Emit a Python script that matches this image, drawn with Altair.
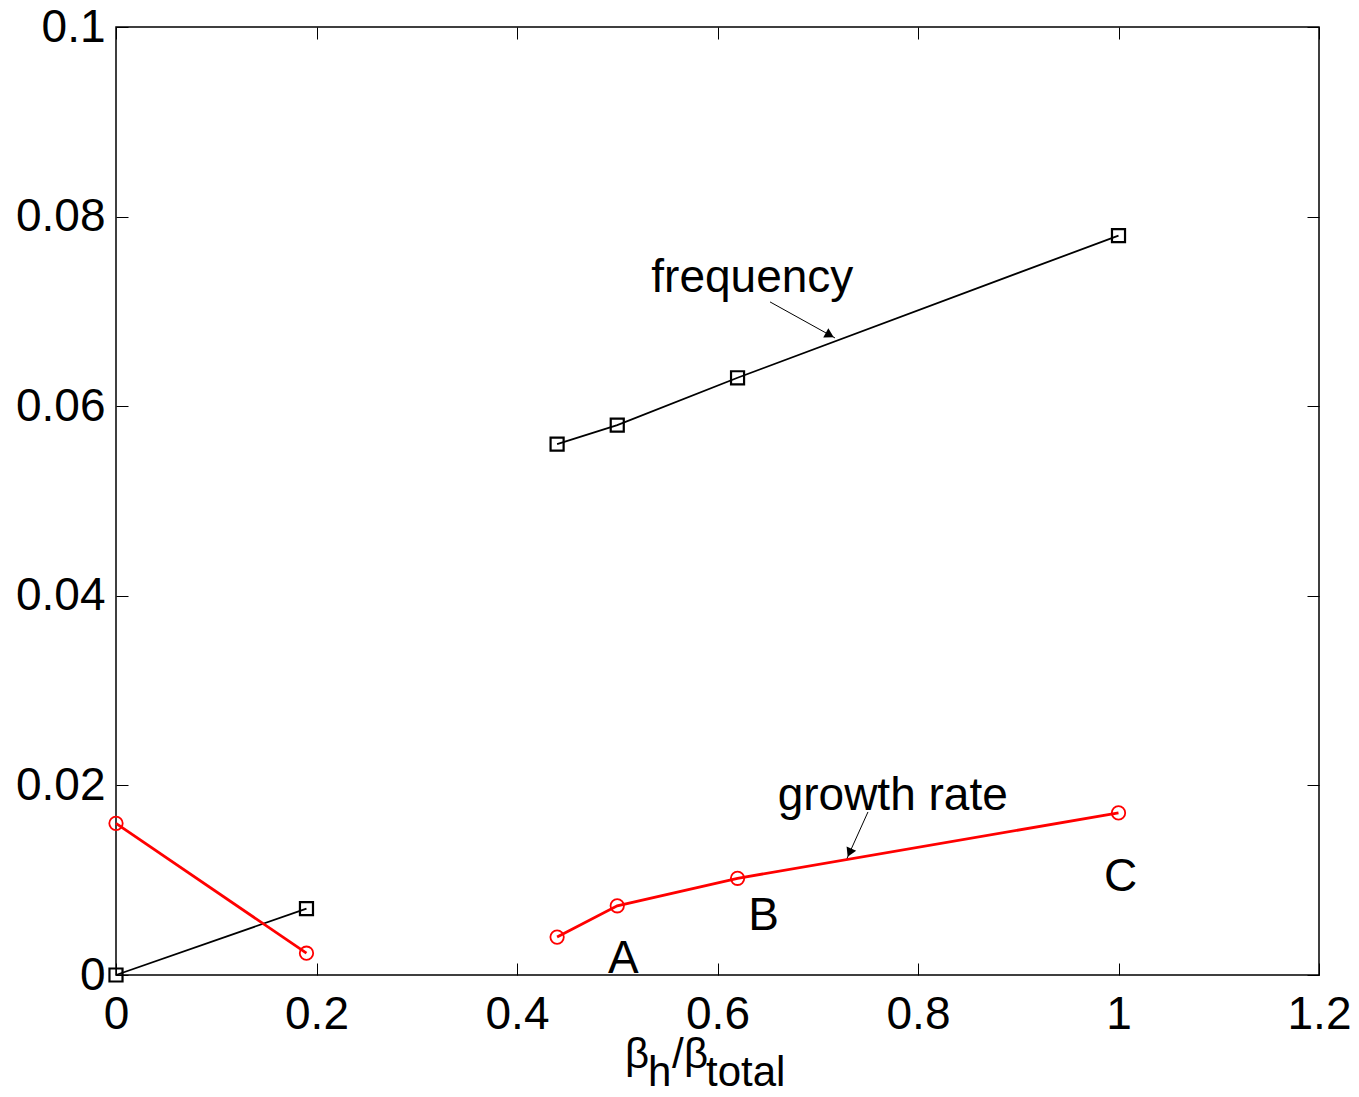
import altair as alt
import pandas as pd

# values
beta_ratio = [0.0, 0.19, 0.44, 0.50, 0.62, 1.0]
frequency = [0.0, 0.007, 0.056, 0.058, 0.063, 0.078]
growth_rate = [0.016, 0.0023, 0.004, 0.0073, 0.0102, 0.0171]
branch = [1, 1, 2, 2, 2, 2]

x_ticks = [0, 0.2, 0.4, 0.6, 0.8, 1.0, 1.2]
y_ticks = [0, 0.02, 0.04, 0.06, 0.08, 0.1]

# text annotations
note_text = ["frequency", "growth rate"]
note_x = [0.534, 0.660]
note_y = [0.0720, 0.0174]

case_text = ["A", "B", "C"]
case_x = [0.506, 0.646, 1.002]
case_y = [0.0002, 0.00475, 0.00886]

arrow_x = [0.6524, 0.7501]
arrow_y = [0.0710, 0.0172]
arrow_x2 = [0.7172, 0.7292]
arrow_y2 = [0.0672, 0.0123]
head_x = [0.7120, 0.7317]
head_y = [0.0675, 0.0129]
head_angle = [29, 114]

# x-axis title pieces: beta_h / beta_total
title_text = ["β", "h", "/", "β", "total"]
title_x = [0.5077, 0.5307, 0.5546, 0.5666, 0.5885]
title_y = [-0.0098, -0.0117, -0.0098, -0.0098, -0.0117]

FONT = "Liberation Sans"

df = pd.DataFrame({"x": beta_ratio, "freq": frequency, "growth": growth_rate, "branch": branch})
notes = pd.DataFrame({"x": note_x, "y": note_y, "t": note_text})
cases = pd.DataFrame({"x": case_x, "y": case_y, "t": case_text})
arrows = pd.DataFrame({"x": arrow_x, "y": arrow_y, "x2": arrow_x2, "y2": arrow_y2})
heads = pd.DataFrame({"x": head_x, "y": head_y, "a": head_angle})
xtitle = pd.DataFrame({"x": title_x, "y": title_y, "t": title_text})

xs = alt.Scale(domain=[0, 1.2], nice=False, zero=False)
ys = alt.Scale(domain=[0, 0.1], nice=False, zero=False)


def X(field, axis=None):
    return alt.X(field, type="quantitative", scale=xs, axis=axis)


def Y(field, axis=None):
    return alt.Y(field, type="quantitative", scale=ys, axis=axis)


axis_style = dict(
    tickSize=12, offset=-12, domain=False, grid=False, title=None,
    tickColor="black", tickWidth=1, labelColor="black",
    labelFont=FONT, labelFontSize=46, labelFlush=False,
    labelOverlap=False, labelBound=False, format="~g",
)

freq_line = alt.Chart(df).mark_line(color="black", strokeWidth=1.8).encode(
    x=X("x", alt.Axis(orient="bottom", values=x_ticks, labelPadding=17, **axis_style)),
    y=Y("freq", alt.Axis(orient="left", values=y_ticks, labelPadding=11, **axis_style)),
    detail="branch:N",
    order="x:Q",
)
freq_pts = alt.Chart(df).mark_point(
    shape="square", filled=False, size=170, strokeWidth=2.2, color="black", opacity=1
).encode(x=X("x"), y=Y("freq"))

growth_line = alt.Chart(df).mark_line(color="#ff0000", strokeWidth=2.8).encode(
    x=X("x"), y=Y("growth"), detail="branch:N", order="x:Q"
)
growth_pts = alt.Chart(df).mark_point(
    shape="circle", filled=False, size=180, strokeWidth=1.8, color="#ff0000", opacity=1
).encode(x=X("x"), y=Y("growth"))

# mirrored ticks on top and right (box)
box_axes = alt.Chart(df).mark_point(opacity=0).encode(
    x=X("x", alt.Axis(orient="top", values=x_ticks, labels=False, **axis_style)),
    y=Y("freq", alt.Axis(orient="right", values=y_ticks, labels=False, **axis_style)),
)

arrow_lines = alt.Chart(arrows).mark_rule(color="black", strokeWidth=1).encode(
    x=X("x"), y=Y("y"), x2="x2", y2="y2"
)
arrow_heads = alt.Chart(heads).mark_point(
    shape="triangle-right", filled=True, size=110, color="black", opacity=1
).encode(x=X("x"), y=Y("y"), angle=alt.Angle("a:Q", scale=None))

note_marks = alt.Chart(notes).mark_text(
    font=FONT, fontSize=46, align="left", baseline="alphabetic", color="black"
).encode(x=X("x"), y=Y("y"), text="t:N")

case_marks = alt.Chart(cases).mark_text(
    font=FONT, fontSize=46, align="center", baseline="alphabetic", color="black"
).encode(x=X("x"), y=Y("y"), text="t:N")

title_marks = alt.Chart(xtitle).mark_text(
    font=FONT, fontSize=42, align="left", baseline="alphabetic", color="black"
).encode(x=X("x"), y=Y("y"), text="t:N")

chart = alt.layer(
    freq_line, box_axes, freq_pts, growth_line, growth_pts,
    arrow_lines, arrow_heads, note_marks, case_marks, title_marks,
).resolve_axis(
    x="independent", y="independent"
).properties(
    width=1203,
    height=948,
    background="white",
    autosize=alt.AutoSizeParams(type="none"),
    padding={"left": 108, "top": 19, "right": 32, "bottom": 112},
).configure_view(
    stroke="black", strokeWidth=1.5
)

chart.save("out.html", embed_options={"renderer": "svg", "actions": False})
